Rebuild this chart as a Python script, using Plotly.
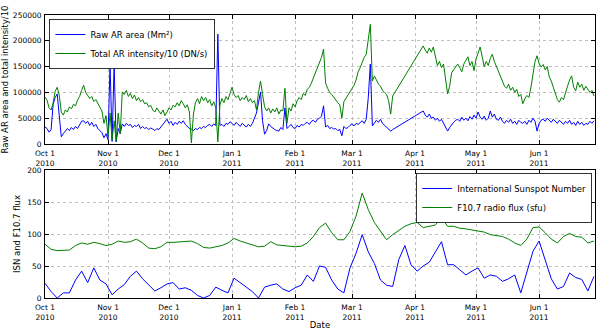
import pandas as pd
import plotly.graph_objects as go
from plotly.subplots import make_subplots

START = pd.Timestamp("2010-10-01")

# top panel: daily values, days 172-185 missing in the data
top_days = list(range(0, 172)) + list(range(186, 271))

ar_area = [
    33000, 30000, 23000, 28000, 77000, 90000, 97000, 60000, 14000, 20000,
    24000, 30000, 26000, 32000, 28000, 34000, 30000, 38000, 44000, 45000,
    40000, 44000, 36000, 42000, 34000, 38000, 30000, 26000, 22000, 12000,
    20000, 8000, 154000, 5000, 155000, 4000, 30000, 20000, 39000, 34000,
    40000, 36000, 38000, 32000, 36000, 34000, 38000, 30000, 34000, 30000,
    32000, 28000, 31000, 29000, 26000, 30000, 28000, 33000, 38000, 44000,
    48000, 40000, 44000, 36000, 42000, 38000, 44000, 40000, 45000, 38000,
    34000, 30000, 29000, 26000, 30000, 28000, 32000, 30000, 34000, 32000,
    36000, 38000, 34000, 39000, 36000, 213000, 36000, 38000, 34000, 40000,
    38000, 43000, 40000, 36000, 42000, 38000, 34000, 40000, 36000, 33000,
    38000, 34000, 40000, 52000, 60000, 80000, 101000, 45000, 19000, 26000,
    39000, 34000, 30000, 28000, 26000, 25000, 32000, 28000, 70000, 30000,
    34000, 38000, 32000, 30000, 36000, 33000, 38000, 36000, 40000, 42000,
    38000, 44000, 46000, 42000, 48000, 50000, 54000, 74000, 33000, 36000,
    30000, 32000, 29000, 30000, 26000, 28000, 16000, 34000, 30000, 32000,
    36000, 39000, 35000, 40000, 38000, 42000, 45000, 40000, 48000, 90000,
    155000, 35000, 40000, 46000, 42000, 48000, 40000, 36000, 33000, 30000,
    25000, 28000,
    64000, 56000, 52000, 58000, 50000, 52000, 46000, 50000, 44000, 48000,
    40000, 34000, 25000, 32000, 38000, 42000, 46000, 48000, 44000, 52000,
    46000, 50000, 45000, 53000, 48000, 56000, 50000, 62000, 52000, 48000,
    54000, 46000, 50000, 64000, 52000, 58000, 48000, 46000, 52000, 44000,
    40000, 46000, 42000, 48000, 40000, 44000, 38000, 46000, 42000, 40000,
    44000, 38000, 46000, 42000, 50000, 44000, 25000, 40000, 46000, 48000,
    44000, 50000, 46000, 42000, 48000, 44000, 40000, 46000, 42000, 38000,
    44000, 40000, 46000, 38000, 42000, 36000, 44000, 38000, 42000, 36000,
    40000, 38000, 44000, 40000, 45000,
]

ar_intensity = [
    91000, 85000, 70000, 66000, 80000, 102000, 110000, 95000, 62000, 56000,
    66000, 62000, 72000, 68000, 77000, 74000, 85000, 92000, 104000, 114000,
    100000, 95000, 88000, 92000, 82000, 86000, 78000, 70000, 64000, 40000,
    55000, 15000, 60000, 8000, 45000, 5000, 60000, 20000, 101000, 96000,
    104000, 92000, 98000, 88000, 95000, 84000, 90000, 82000, 86000, 78000,
    80000, 72000, 75000, 66000, 62000, 70000, 64000, 58000, 66000, 55000,
    62000, 70000, 66000, 75000, 72000, 80000, 74000, 84000, 78000, 70000,
    76000, 62000, 2000, 58000, 80000, 88000, 78000, 92000, 84000, 90000,
    80000, 86000, 74000, 82000, 70000, 4000, 75000, 88000, 80000, 92000,
    86000, 98000, 110000, 96000, 90000, 94000, 84000, 90000, 86000, 94000,
    82000, 88000, 80000, 84000, 66000, 100000, 122000, 96000, 72000, 64000,
    70000, 60000, 68000, 62000, 70000, 58000, 66000, 64000, 108000, 40000,
    70000, 64000, 78000, 72000, 84000, 90000, 86000, 98000, 94000, 106000,
    110000, 118000, 128000, 140000, 150000, 158000, 168000, 184000, 118000, 108000,
    100000, 96000, 90000, 86000, 80000, 76000, 50000, 82000, 88000, 94000,
    100000, 108000, 114000, 124000, 140000, 148000, 160000, 168000, 174000, 200000,
    232000, 122000, 132000, 124000, 116000, 112000, 104000, 100000, 96000, 84000,
    58000, 93000,
    190000, 182000, 176000, 186000, 178000, 188000, 170000, 152000, 160000, 148000,
    155000, 130000, 97000, 112000, 138000, 144000, 150000, 155000, 148000, 140000,
    155000, 162000, 169000, 152000, 160000, 142000, 165000, 176000, 188000, 170000,
    150000, 160000, 152000, 166000, 174000, 160000, 150000, 140000, 132000, 124000,
    112000, 108000, 116000, 104000, 110000, 100000, 106000, 92000, 96000, 78000,
    88000, 94000, 90000, 110000, 140000, 160000, 171000, 156000, 149000, 154000,
    144000, 150000, 130000, 122000, 110000, 96000, 86000, 81000, 90000, 86000,
    97000, 112000, 124000, 132000, 110000, 103000, 120000, 110000, 116000, 104000,
    112000, 106000, 100000, 104000, 93000,
]

# bottom panel: every third day
bottom_days = list(range(0, 271, 3))

isn = [
    23, 10, 0, 8, 8, 28, 42, 24, 47, 28,
    22, 5, 14, 21, 34, 42, 30, 20, 11, 16,
    22, 24, 14, 16, 12, 4, 0, 4, 17, 12,
    8, 31, 24, 17, 10, 0, 17, 20, 22, 14,
    10, 16, 20, 36, 26, 50, 48, 28, 14, 8,
    47, 70, 99, 72, 54, 28, 20, 18, 60, 82,
    52, 42, 50, 56, 72, 88, 52, 52, 44, 36,
    42, 47, 31, 36, 34, 26, 30, 36, 8, 40,
    73, 89, 58, 30, 14, 18, 39, 32, 29, 11,
    34,
]

f107 = [
    84, 76, 74, 75, 75, 82, 86, 84, 87, 85,
    82, 84, 89, 87, 88, 92, 86, 78, 77, 80,
    87, 87, 88, 88, 89, 85, 79, 78, 80, 82,
    86, 93, 89, 86, 82, 80, 81, 88, 83, 82,
    82, 80, 81, 86, 96, 110, 117, 102, 91, 91,
    104, 128, 164, 138, 118, 104, 91, 99, 106, 112,
    116, 118, 110, 112, 114, 126, 112, 112, 109, 108,
    106, 105, 103, 99, 98, 96, 92, 86, 82, 92,
    110, 111, 102, 92, 86, 96, 101, 96, 95, 86,
    89,
]

tick_dates = pd.date_range("2010-10-01", "2011-06-01", freq="MS")
tick_text = [d.strftime("%b 1<br>%Y") for d in tick_dates]

top_x = [START + pd.Timedelta(days=d) for d in top_days]
bot_x = [START + pd.Timedelta(days=d) for d in bottom_days]

BLUE = "#0000ff"
GREEN = "#008000"
FONT = "DejaVu Sans"

fig = make_subplots(rows=2, cols=1)

fig.add_trace(go.Scatter(x=top_x, y=ar_area, mode="lines", name="Raw AR area (Mm²)",
                         line=dict(color=BLUE, width=1), legend="legend"), row=1, col=1)
fig.add_trace(go.Scatter(x=top_x, y=ar_intensity, mode="lines", name="Total AR intensity/10 (DN/s)",
                         line=dict(color=GREEN, width=1), legend="legend"), row=1, col=1)
fig.add_trace(go.Scatter(x=bot_x, y=isn, mode="lines", name="International Sunspot Number",
                         line=dict(color=BLUE, width=1), legend="legend2"), row=2, col=1)
fig.add_trace(go.Scatter(x=bot_x, y=f107, mode="lines", name="F10.7 radio flux (sfu)",
                         line=dict(color=GREEN, width=1), legend="legend2"), row=2, col=1)

H = 333
axis_common = dict(showline=True, linecolor="black", linewidth=1, mirror="ticks",
                   ticks="inside", ticklen=4, tickcolor="black", automargin=False,
                   showgrid=True, gridcolor="#c0c0c0", griddash="dot", gridwidth=1,
                   zeroline=False, tickfont=dict(family=FONT, size=7.5, color="black"))

xrange = [START, START + pd.Timedelta(days=270.5)]
fig.update_xaxes(**axis_common, range=xrange, tickvals=list(tick_dates), ticktext=tick_text,
                 domain=[0, 1], ticklabelstandoff=2)
fig.update_yaxes(**axis_common, tickformat="d", ticklabelstandoff=1)

fig.update_layout(
    width=600, height=H,
    margin=dict(l=45, r=5, t=0, b=0),
    paper_bgcolor="white", plot_bgcolor="white",
    font=dict(family=FONT, size=8.5, color="black"),
    yaxis=dict(domain=[1 - 144 / H, 1 - 15 / H], range=[0, 250000], dtick=50000,
               title=dict(text="Raw AR area and total intensity/10", standoff=2,
                          font=dict(family=FONT, size=8.5))),
    yaxis2=dict(domain=[1 - 298 / H, 1 - 170 / H], range=[0, 200], dtick=50,
                title=dict(text="ISN and F10.7 flux", standoff=5,
                           font=dict(family=FONT, size=8.5))),
    xaxis2=dict(title=dict(text="Date", standoff=1, font=dict(family=FONT, size=8.5))),
    legend=dict(x=0.008, y=1 - 19 / H, xanchor="left", yanchor="top", bgcolor="white",
                bordercolor="#333333", borderwidth=1, font=dict(family=FONT, size=8.5),
                tracegroupgap=0, itemwidth=30),
    legend2=dict(x=0.995, y=1 - 173 / H, xanchor="right", yanchor="top", bgcolor="white",
                 bordercolor="#333333", borderwidth=1, font=dict(family=FONT, size=8.5),
                 tracegroupgap=0, itemwidth=30),
    showlegend=True,
)

# the page body has a default 8px margin; drop it so the figure sits at the corner
fig.write_html("out.html", config={"displayModeBar": False},
               post_script="document.body.style.margin='0';")
